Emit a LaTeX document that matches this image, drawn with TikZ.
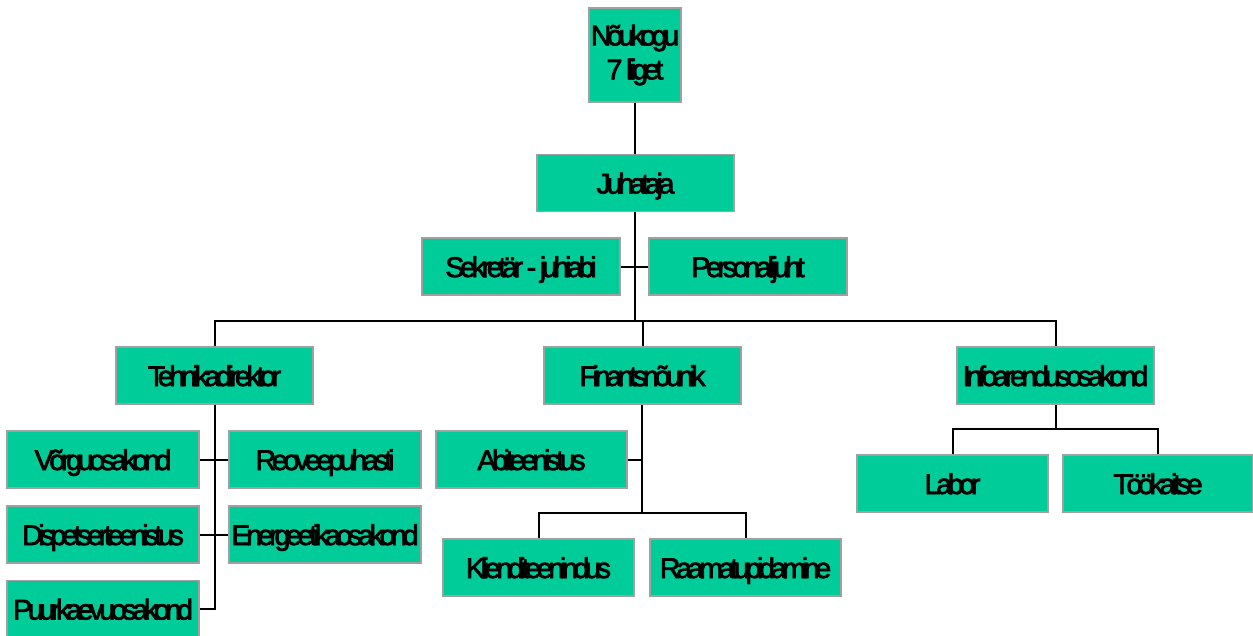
\documentclass[tikz,border=0pt]{standalone}
\usepackage{fontspec}
\newfontfamily\orgfont{Liberation Sans}[LetterSpace=-15,FakeBold=2.5]
\definecolor{boxgreen}{RGB}{0,204,153}
\definecolor{boxedge}{RGB}{160,160,160}
\begin{document}
\begin{tikzpicture}[x=1pt,y=-1pt,
      u/.style={draw=boxedge,line width=1.2pt,fill=boxgreen,inner sep=0pt,
        minimum width=197pt,minimum height=57pt,text height=21pt,text depth=0pt,
        font=\orgfont\fontsize{28.5}{34}\selectfont},
      l/.style={u,minimum width=192pt},
      c/.style={line width=2pt}]
      \useasboundingbox (0,0) rectangle (1253,635);
      \node[u,minimum width=92pt,minimum height=94pt,text height=,text depth=,align=center] (nk) at (635,55) {Nõukogu\\7 liiget};
      \node[u] (jh) at (635.5,183) {Juhataja};
      \node[u,minimum width=198pt] (sk) at (521,266.5) {Sekretär - juhiabi};
      \node[u,minimum width=198pt] (pj) at (748,266.5) {Personalijuht};
      \node[u] (td) at (214.5,375.5) {Tehnikadirektor};
      \node[u] (fn) at (642.5,375.5) {Finantsnõunik};
      \node[u] (ia) at (1055.5,375.5) {Infoarendusosakond};
      \node[l] (vo) at (103,459.5) {Võrguosakond};
      \node[l] (ro) at (325,459.5) {Reoveepuhasti};
      \node[l] (dt) at (103,534.5) {Dispetserteenistus};
      \node[l] (eo) at (325,534.5) {Energeetikaosakond};
      \node[l] (pk) at (103,609) {Puurkaevuosakond};
      \node[l,minimum width=191pt] (ab) at (531.5,459.5) {Abiteenistus};
      \node[l,minimum width=191pt] (kt) at (538.5,567.5) {Klienditeenindus};
      \node[l,minimum width=191pt] (rp) at (745.5,567.5) {Raamatupidamine};
      \node[l,minimum width=191pt] (lb) at (952.5,483.5) {Labor};
      \node[l,minimum width=190pt] (tk) at (1158,483.5) {Töökaitse};
      % bus points
      \coordinate (b) at (635,321);
      \coordinate (fb) at (642,513);
      \coordinate (ib) at (1056,429);
      % top
      \draw[c] (nk.south -| b) -- (jh.north -| b);
      \draw[c] (jh.south -| b) -- (b);
      \draw[c] (sk.east) -- (pj.west);
      \draw[c] (td.north) |- (b) -| (ia.north);
      \draw[c] (fn.north) -- (fn.north |- b);
      % tehnika
      \draw[c] (td.south) -- (td.south |- pk.east) -- (pk.east);
      \draw[c] (vo.east) -- (ro.west);
      \draw[c] (dt.east) -- (eo.west);
      % finants
      \draw[c] (fn.south -| fb) -- (fb);
      \draw[c] (ab.east) -- (ab.east -| fb);
      \draw[c] (kt.north) |- (fb) -| (rp.north);
      % info
      \draw[c] (ia.south -| ib) -- (ib);
      \draw[c] (lb.north) |- (ib) -| (tk.north);
\end{tikzpicture}
\end{document}
